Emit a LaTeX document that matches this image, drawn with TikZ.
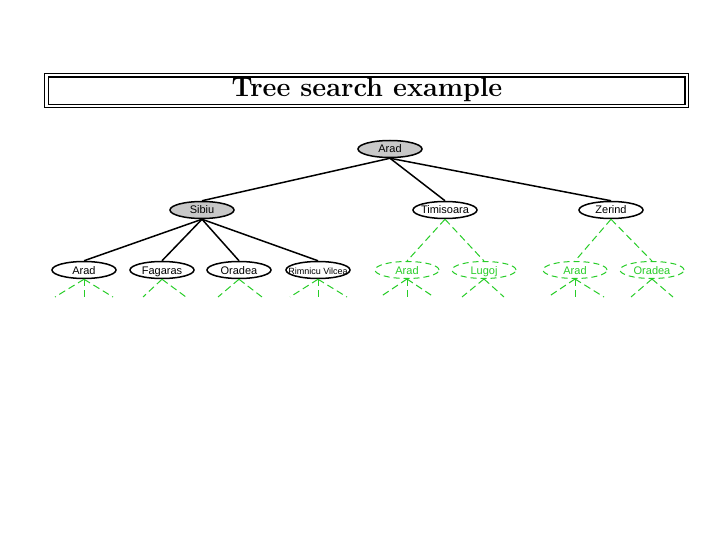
\documentclass[tikz,border=0pt]{standalone}
\usepackage{fontspec}
\newfontfamily\nodefont{Liberation Sans}
\usepackage{tikz}
\usetikzlibrary{shapes}
\definecolor{lightgraynode}{RGB}{200,200,200}
\definecolor{brightgreen}{RGB}{40,205,40}
\tikzset{
  treenode/.style={ellipse, draw=black, line width=1.5pt, minimum width=64pt, minimum height=17pt, inner sep=0pt, text height=9pt, text depth=1pt, font=\nodefont\fontsize{11}{12}\selectfont},
  opennode/.style={treenode, fill=lightgraynode},
  fringenode/.style={treenode, draw=brightgreen, text=brightgreen, line width=1pt, dash pattern=on 6pt off 4pt},
  treeedge/.style={draw=black, line width=1.5pt},
  fringeedge/.style={draw=brightgreen, line width=1pt, dash pattern=on 7pt off 4pt},
}

\begin{document}
\begin{tikzpicture}[x=1pt,y=-1pt]
\useasboundingbox (0,0) rectangle (720,540);
\draw[line width=1.2pt] (44.7,73.3) rectangle (688.3,107.7);
\draw[line width=1.2pt] (48.3,77) rectangle (685,104.3);
\node (title) at (367,90) {\fontsize{27}{32}\selectfont\bfseries Tree search example};

\node[opennode] (arad) at (390,149) {Arad};
\node[opennode] (sibiu) at (202,210) {Sibiu};
\node[treenode] (timisoara) at (445,210) {\makebox[44pt]{Timisoara}};
\node[treenode] (zerind) at (611,210) {Zerind};

\node[treenode] (sarad) at (84,270) {Arad};
\node[treenode] (fagaras) at (162,270) {Fagaras};
\node[treenode] (soradea) at (239,270) {Oradea};
\node[treenode, font=\nodefont\fontsize{9}{10}\selectfont] (rimnicu) at (318,270) {\makebox[40pt]{Rimnicu Vilcea}};

\node[fringenode] (tarad) at (407,270) {Arad};
\node[fringenode] (lugoj) at (484,270) {Lugoj};
\node[fringenode] (zarad) at (575,270) {Arad};
\node[fringenode] (zoradea) at (652,270) {Oradea};

\draw[treeedge] (arad.south) -- (sibiu.north);
\draw[treeedge] (arad.south) -- (timisoara.north);
\draw[treeedge] (arad.south) -- (zerind.north);
\draw[treeedge] (sibiu.south) -- (sarad.north);
\draw[treeedge] (sibiu.south) -- (fagaras.north);
\draw[treeedge] (sibiu.south) -- (soradea.north);
\draw[treeedge] (sibiu.south) -- (rimnicu.north);
\draw[fringeedge] (timisoara.south) -- (tarad.north);
\draw[fringeedge] (timisoara.south) -- (lugoj.north);
\draw[fringeedge] (zerind.south) -- (zarad.north);
\draw[fringeedge] (zerind.south) -- (zoradea.north);

% unexpanded successors
\coordinate (saradl) at (55,297);
\coordinate (saradm) at (84,297);
\coordinate (saradr) at (113,297);
\coordinate (fagarasl) at (143,297);
\coordinate (fagarasr) at (186,297);
\coordinate (soradeal) at (218,297);
\coordinate (soradear) at (262,297);
\coordinate (rimnicul) at (290,297);
\coordinate (rimnicum) at (318,297);
\coordinate (rimnicur) at (347,297);
\coordinate (taradl) at (380,297);
\coordinate (taradm) at (407,297);
\coordinate (taradr) at (434,297);
\coordinate (lugojl) at (462,297);
\coordinate (lugojr) at (504,297);
\coordinate (zaradl) at (548,297);
\coordinate (zaradm) at (575,297);
\coordinate (zaradr) at (604,297);
\coordinate (zoradeal) at (631,297);
\coordinate (zoradear) at (673,297);

\draw[fringeedge] (sarad.south) -- (saradl);
\draw[fringeedge] (sarad.south) -- (saradm);
\draw[fringeedge] (sarad.south) -- (saradr);
\draw[fringeedge] (fagaras.south) -- (fagarasl);
\draw[fringeedge] (fagaras.south) -- (fagarasr);
\draw[fringeedge] (soradea.south) -- (soradeal);
\draw[fringeedge] (soradea.south) -- (soradear);
\draw[fringeedge] (rimnicu.south) -- (rimnicul);
\draw[fringeedge] (rimnicu.south) -- (rimnicum);
\draw[fringeedge] (rimnicu.south) -- (rimnicur);
\draw[fringeedge] (tarad.south) -- (taradl);
\draw[fringeedge] (tarad.south) -- (taradm);
\draw[fringeedge] (tarad.south) -- (taradr);
\draw[fringeedge] (lugoj.south) -- (lugojl);
\draw[fringeedge] (lugoj.south) -- (lugojr);
\draw[fringeedge] (zarad.south) -- (zaradl);
\draw[fringeedge] (zarad.south) -- (zaradm);
\draw[fringeedge] (zarad.south) -- (zaradr);
\draw[fringeedge] (zoradea.south) -- (zoradeal);
\draw[fringeedge] (zoradea.south) -- (zoradear);
\end{tikzpicture}
\end{document}
